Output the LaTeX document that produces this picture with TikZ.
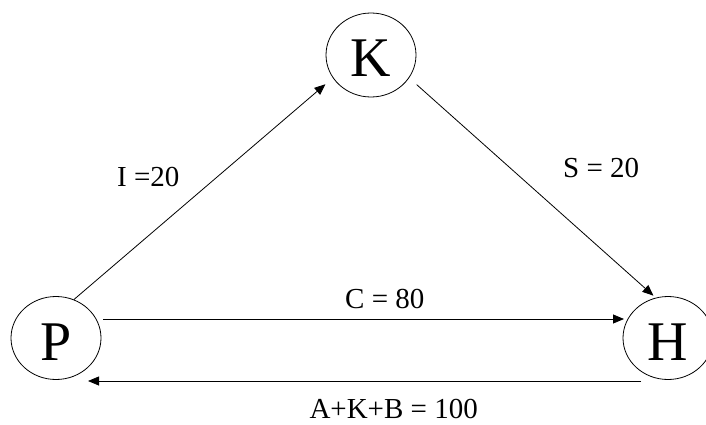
\documentclass[tikz,border=0pt]{standalone}
\usepackage{fontspec}
\setmainfont{Liberation Serif}
\usetikzlibrary{arrows.meta,shapes.geometric}
\tikzset{
  state/.style={draw, ellipse, line width=0.8pt, minimum width=90pt, minimum height=83pt,
    inner sep=0pt, font=\fontsize{56}{60}\selectfont, text height=44pt, text depth=0pt},
  arr/.style={draw, line width=0.8pt, -{Triangle[length=11pt,width=9pt]}},
  lbl/.style={inner sep=0pt, font=\fontsize{29}{32}\selectfont}
}
\begin{document}
\begin{tikzpicture}[x=1pt,y=1pt]
\useasboundingbox (0,0) rectangle (706,424);
\clip (0,0) rectangle (706,424);
\node[state, minimum height=84pt] (K) at (371,369) {K};
\node[state] (P) at (56,86) {P};
\node[state] (H) at (668,86) {H};
\draw[arr, shorten >=9.7pt] (P.65) -- (K.211);
\draw[arr, shorten <=10pt, shorten >=3pt] (K.-31) -- (H.107);
\draw[arr] ([xshift=47pt,yshift=19pt]P.center) -- ([xshift=-44pt,yshift=19pt]H.center);
\draw[arr] ([xshift=-27pt,yshift=-43pt]H.center) -- ([xshift=32pt,yshift=-43pt]P.center);
\node[lbl, anchor=base west] (lI) at (117,238) {I =20};
\node[lbl, anchor=base west] (lS) at (563,247) {S = 20};
\node[lbl, anchor=base west] (lC) at (345,116) {C = 80};
\node[lbl, anchor=base east] (lA) at (478,6) {A+K+B = 100};
\end{tikzpicture}
\end{document}
